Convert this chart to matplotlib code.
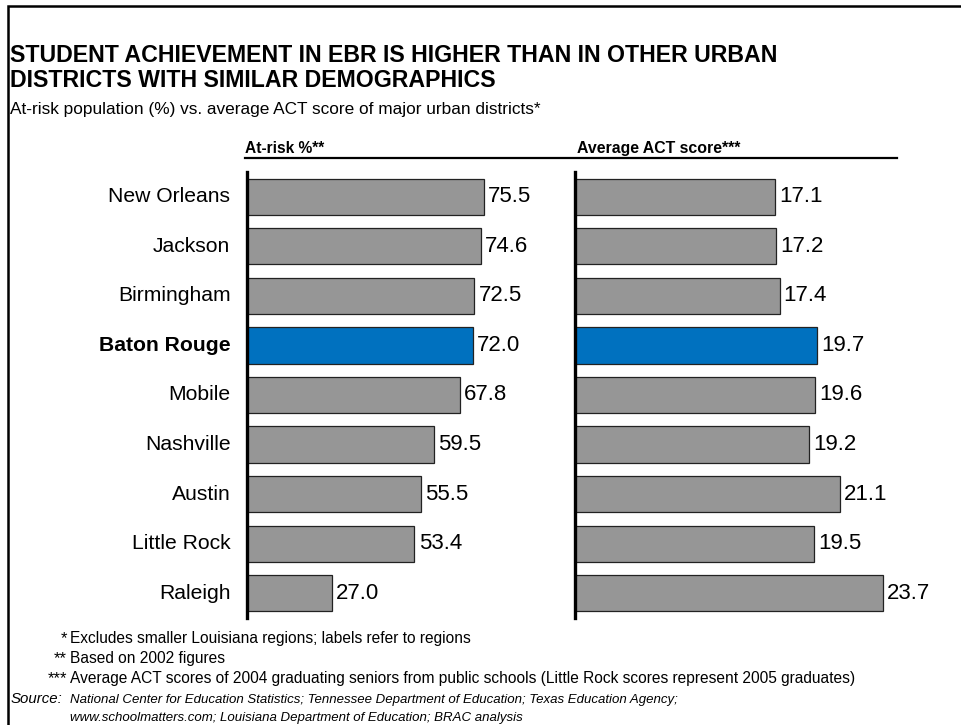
import matplotlib
matplotlib.use("Agg")
import matplotlib.pyplot as plt
from matplotlib.patches import Rectangle

plt.rcParams['font.family'] = ['Liberation Sans', 'DejaVu Sans']

districts = ['New Orleans', 'Jackson', 'Birmingham', 'Baton Rouge', 'Mobile',
             'Nashville', 'Austin', 'Little Rock', 'Raleigh']
at_risk = [75.5, 74.6, 72.5, 72.0, 67.8, 59.5, 55.5, 53.4, 27.0]
act_score = [17.1, 17.2, 17.4, 19.7, 19.6, 19.2, 21.1, 19.5, 23.7]
highlight = 'Baton Rouge'

gray = '#969696'
blue = '#0071BF'
colors = [blue if d == highlight else gray for d in districts]

W, H = 961, 725
fig = plt.figure(figsize=(W / 100, H / 100), dpi=100)


def px(x0, y0, x1, y1):
    # pixel box -> figure fraction rect
    return [x0 / W, 1 - y1 / H, (x1 - x0) / W, (y1 - y0) / H]


ax1 = fig.add_axes(px(247, 172, 540, 618))
ax2 = fig.add_axes(px(575, 172, 897, 618))

ypos = list(range(len(districts)))
# right panel axis does not start at zero (ACT axis cut at ~4.9)
for ax, vals, lim in [(ax1, at_risk, (0, 293 / 3.135)),
                      (ax2, act_score, (4.9, 4.9 + 322 / 16.36))]:
    ax.barh(ypos, vals, height=0.73, color=colors, edgecolor='#222222',
            linewidth=0.9)
    ax.set_xlim(*lim)
    ax.set_ylim(8.5, -0.5)
    for s in ['top', 'right', 'bottom']:
        ax.spines[s].set_visible(False)
    ax.spines['left'].set_linewidth(2.4)
    ax.set_xticks([])
    ax.set_yticks([])
    for y, v in zip(ypos, vals):
        ax.annotate(f'{v:.1f}', (v, y), xytext=(3, 0), textcoords='offset points',
                    va='center', ha='left', fontsize=16)

for y, d in zip(ypos, districts):
    ax1.text(-5.3, y, d, va='center', ha='right', fontsize=15.2,
             fontweight='bold' if d == highlight else 'normal')

# header row
fig.text(245 / W, 1 - 153 / H, 'At-risk %**', fontsize=11.2, fontweight='bold')
fig.text(577 / W, 1 - 153 / H, 'Average ACT score***', fontsize=11.4, fontweight='bold')
fig.add_artist(plt.Line2D([245 / W, 897 / W], [1 - 158 / H, 1 - 158 / H],
                          color='black', linewidth=1.6))

# title
fig.text(10 / W, 1 - 62 / H, 'STUDENT ACHIEVEMENT IN EBR IS HIGHER THAN IN OTHER URBAN',
         fontsize=16.7, fontweight='bold')
fig.text(10 / W, 1 - 87 / H, 'DISTRICTS WITH SIMILAR DEMOGRAPHICS',
         fontsize=16.7, fontweight='bold')
fig.text(10 / W, 1 - 114 / H,
         'At-risk population (%) vs. average ACT score of major urban districts*',
         fontsize=12.4)

# footnotes
notes = [('*', 'Excludes smaller Louisiana regions; labels refer to regions'),
         ('**', 'Based on 2002 figures'),
         ('***', 'Average ACT scores of 2004 graduating seniors from public schools '
                 '(Little Rock scores represent 2005 graduates)')]
for i, (mark, txt) in enumerate(notes):
    yb = 1 - (643 + 20 * i) / H
    fig.text(67 / W, yb, mark, fontsize=12, ha='right')
    fig.text(70 / W, yb, txt, fontsize=11.2)
fig.text(11 / W, 1 - 703 / H, 'Source:', fontsize=10.8, style='italic')
fig.text(70 / W, 1 - 703 / H,
         'National Center for Education Statistics; Tennessee Department of Education; '
         'Texas Education Agency;', fontsize=9.5, style='italic')
fig.text(70 / W, 1 - 721 / H,
         'www.schoolmatters.com; Louisiana Department of Education; BRAC analysis',
         fontsize=9.5, style='italic')

# outer frame
fig.add_artist(Rectangle((8 / W, -0.2), 1.2, 1.2 - 6 / H, transform=fig.transFigure,
                         fill=False, edgecolor='black', linewidth=1.8))

fig.savefig('out.png', dpi=100)
